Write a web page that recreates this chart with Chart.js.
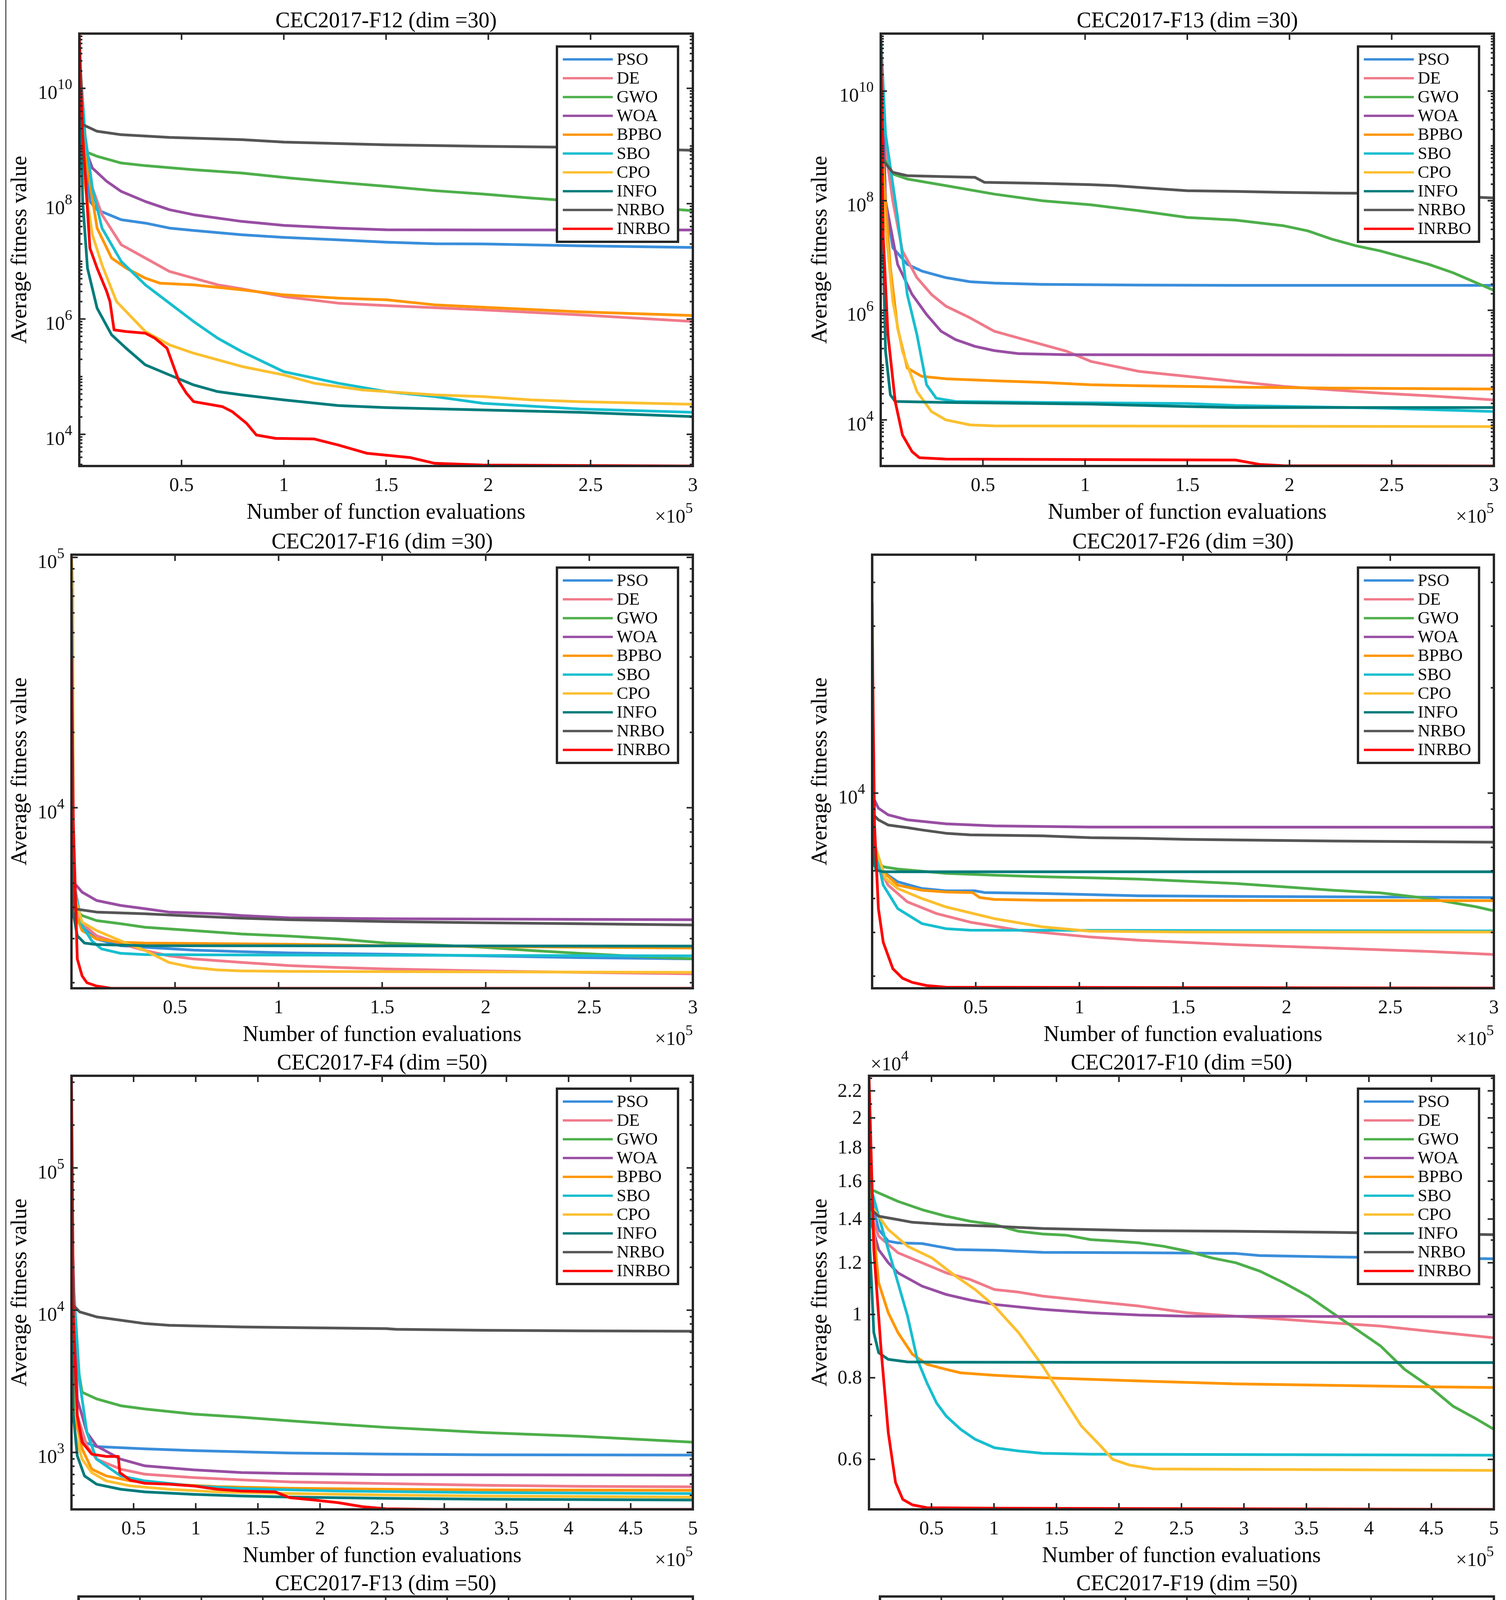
<!DOCTYPE html>
<html>
<head>
<meta charset="utf-8">
<title>CEC2017 convergence curves</title>
<script src="https://cdn.jsdelivr.net/npm/chart.js"></script>
<style>
  html, body { margin: 0; padding: 0; background: #fff; }
  body { width: 3856px; height: 5372px; position: relative; overflow: hidden; }
  #frame { position: absolute; left: 14px; top: 0; width: 2px; height: 5372px; background: #111; }
  canvas { position: absolute; }
</style>
</head>
<body>
<div id="frame"></div>
<script>
// ---- data: [function evaluations, average fitness] ----
const algorithms = ["PSO", "DE", "GWO", "WOA", "BPBO", "SBO", "CPO", "INFO", "NRBO", "INRBO"];

const titles = [
  "CEC2017-F12 (dim =30)", "CEC2017-F13 (dim =30)",
  "CEC2017-F16 (dim =30)", "CEC2017-F26 (dim =30)",
  "CEC2017-F4 (dim =50)", "CEC2017-F10 (dim =50)",
  "CEC2017-F13 (dim =50)", "CEC2017-F19 (dim =50)"
];

const xTicks30 = [0.5, 1, 1.5, 2, 2.5, 3];
const xTicks50 = [0.5, 1, 1.5, 2, 2.5, 3, 3.5, 4, 4.5, 5];

const yTicksWide = [1e4, 1e6, 1e8, 1e10];
const yTicksF16 = [1e4, 1e5];
const yTicksF26 = [1e4];
const yTicksF4 = [1e3, 1e4, 1e5];
const yTicksF10 = [6000, 8000, 10000, 12000, 14000, 16000, 18000, 20000, 22000];

const xMax = [3e5, 3e5, 3e5, 3e5, 5e5, 5e5, 5e5, 5e5];
const yLimits = [
  [2.82e3, 8.9e10], [1.44e3, 1.12e11],
  [1.9e3, 1.025e5], [2.77e3, 4.8e4],
  [398, 4.44e5], [5030, 23200],
  [1.585e3, 2.6e11], [2.08e3, 4.9e10]
];

const f12d30 = [
  [[0,4e10],[2000,2e9],[5200,1.09e8],[8700,7.85e7],[20500,5.26e7],[32300,4.6e7],[44100,3.77e7],[55900,3.43e7],[79500,2.89e7],[100000,2.6e7],[126700,2.36e7],[150200,2.15e7],[173800,2.02e7],[197400,2.0e7],[244600,1.86e7],[300000,1.74e7]],
  [[0,4e10],[2000,2.5e9],[6400,1.87e8],[11100,6.43e7],[20500,1.94e7],[32300,1.14e7],[44100,6.67e6],[55900,5.11e6],[67700,3.91e6],[79500,3.33e6],[100000,2.45e6],[126700,1.88e6],[150200,1.71e6],[197400,1.44e6],[244600,1.18e6],[300000,9.04e5]],
  [[0,4e10],[2800,8.07e8],[8700,6.62e8],[20500,5.07e8],[32300,4.56e8],[55900,3.88e8],[79500,3.4e8],[103000,2.78e8],[126700,2.34e8],[150200,2.0e8],[173800,1.68e8],[197400,1.47e8],[221000,1.25e8],[244600,1.09e8],[300000,7.54e7]],
  [[0,4e10],[2800,9.2e8],[6400,4.15e8],[13400,2.44e8],[20500,1.63e8],[32300,1.09e8],[44100,7.85e7],[55900,6.43e7],[79500,4.92e7],[100000,4.2e7],[126700,3.77e7],[150200,3.53e7],[197400,3.5e7],[300000,3.5e7]],
  [[0,4e10],[4000,4.15e8],[8700,3.77e7],[15800,1.14e7],[22900,7.62e6],[32300,5.11e6],[39400,4.18e6],[55900,3.91e6],[79500,3.2e6],[100000,2.62e6],[126700,2.3e6],[150200,2.15e6],[173800,1.76e6],[197400,1.6e6],[244600,1.33e6],[300000,1.15e6]],
  [[0,4e10],[2800,1.57e9],[6400,1.87e8],[11100,3.77e7],[20500,9.95e6],[32300,3.91e6],[44100,1.88e6],[55900,9.04e5],[67700,4.64e5],[79500,2.72e5],[100000,1.22e5],[126700,7.68e4],[150200,5.5e4],[173800,4.51e4],[197400,3.45e4],[244600,2.75e4],[300000,2.41e4]],
  [[0,4e10],[2800,2.13e8],[6400,2.89e7],[11100,8.7e6],[18200,2.01e6],[32300,6.06e5],[44100,3.56e5],[55900,2.55e5],[79500,1.5e5],[100000,1.07e5],[114900,7.68e4],[138400,5.88e4],[173800,4.82e4],[197400,4.51e4],[221000,3.95e4],[244600,3.69e4],[300000,3.32e4]],
  [[0,4e10],[1650,1.09e8],[4000,7.62e6],[8700,1.54e6],[15800,5.31e5],[22900,3.11e5],[32300,1.6e5],[44100,1.07e5],[55900,7.18e4],[67700,5.5e4],[79500,4.82e4],[100000,3.95e4],[126700,3.15e4],[150200,2.9e4],[197400,2.64e4],[244600,2.41e4],[300000,2.03e4]],
  [[0,4e10],[1650,2.35e9],[8700,1.8e9],[20500,1.57e9],[44100,1.41e9],[79500,1.29e9],[100000,1.17e9],[150200,1.05e9],[197400,9.87e8],[244600,9.48e8],[300000,8.42e8]],
  [[0,8.9e10],[1650,1.57e9],[5200,1.69e7],[8700,7.62e6],[13400,3.0e6],[15000,2.0e6],[17000,6.47e5],[22900,6.06e5],[32300,5.67e5],[37000,4.64e5],[42900,3.11e5],[48800,8.2e4],[52400,5.15e4],[55900,3.69e4],[70000,3.02e4],[74800,2.47e4],[81800,1.55e4],[86600,9.7e3],[96000,8.5e3],[114900,8.3e3],[126700,6.5e3],[140800,4.68e3],[162000,3.94e3],[173800,3.14e3],[197400,2.93e3],[300000,2.82e3]]
];

const f13d30 = [
  [[0,1.1e11],[2360,9.97e7],[5900,1.39e7],[12990,6.9e6],[20080,5.21e6],[31890,3.94e6],[43700,3.32e6],[55510,3.14e6],[79130,2.97e6],[126370,2.89e6],[173600,2.85e6],[300000,2.85e6]],
  [[0,1.1e11],[2360,8.22e8],[5900,9.97e7],[10630,1.21e7],[17720,3.94e6],[24800,1.95e6],[31890,1.19e6],[43700,7.28e5],[55510,4.15e5],[67320,3.13e5],[79130,2.37e5],[90940,1.79e5],[102750,1.17e5],[114560,9.48e4],[126370,7.68e4],[149990,6.22e4],[173600,5.04e4],[197230,4.08e4],[220850,3.54e4],[244470,3.08e4],[268090,2.75e4],[300000,2.32e4]],
  [[0,1.1e11],[1180,6.2e8],[5900,3.07e8],[12990,2.49e8],[31890,1.88e8],[55510,1.32e8],[79130,9.97e7],[102750,8.43e7],[126370,6.55e7],[149990,4.94e7],[173600,4.42e7],[197230,3.48e7],[209040,2.81e7],[220850,1.98e7],[232660,1.5e7],[244470,1.21e7],[268090,6.9e6],[279900,4.86e6],[300000,2.31e6]],
  [[0,1.1e11],[2360,9.97e7],[8270,6.9e6],[15350,1.95e6],[22440,8.38e5],[29530,4.15e5],[36610,2.92e5],[46060,2.2e5],[55510,1.84e5],[67320,1.62e5],[90940,1.55e5],[300000,1.51e5]],
  [[0,1.1e11],[1180,4.06e8],[4720,6.0e6],[8270,4.77e5],[12990,8.84e4],[20080,6.22e4],[31890,5.63e4],[55510,5.18e4],[79130,4.83e4],[102750,4.38e4],[126370,4.2e4],[173600,3.97e4],[220850,3.8e4],[300000,3.65e4]],
  [[0,1.1e11],[2360,1.66e9],[8270,4.94e7],[12990,1.95e6],[17720,3.6e5],[22440,4.38e4],[27160,2.49e4],[36610,2.17e4],[79130,2.08e4],[149990,1.99e4],[173600,1.83e4],[244470,1.64e4],[300000,1.42e4]],
  [[0,1.1e11],[1180,9.97e7],[5900,1.47e6],[10630,1.79e5],[17720,3.3e4],[24800,1.42e4],[31890,1e4],[43700,8.1e3],[55510,7.77e3],[300000,7.55e3]],
  [[0,1.1e11],[236,4.06e8],[2360,1.79e5],[4720,2.87e4],[7090,2.17e4],[31890,2.08e4],[102750,1.94e4],[149990,1.75e4],[173600,1.68e4],[300000,1.68e4]],
  [[0,1.12e11],[1180,5.39e8],[5900,3.29e8],[12990,2.86e8],[31890,2.74e8],[46060,2.67e8],[50780,2.16e8],[79130,2.07e8],[102750,1.96e8],[114560,1.88e8],[131090,1.7e8],[149990,1.52e8],[173600,1.48e8],[197230,1.42e8],[220850,1.38e8],[244470,1.36e8],[300000,1.12e8]],
  [[0,6.4e10],[1180,2.44e7],[3540,3.6e5],[7090,2.17e4],[10630,5.31e3],[15350,2.63e3],[18900,2.04e3],[31890,1.93e3],[173600,1.85e3],[185420,1.54e3],[197230,1.46e3],[300000,1.44e3]]
];

const f16d30 = [
  [[0,3e4],[932,3.95e3],[6290,3.28e3],[12120,2.99e3],[23780,2.81e3],[35430,2.77e3],[58740,2.7e3],[82050,2.66e3],[105360,2.63e3],[151980,2.6e3],[198600,2.56e3],[245220,2.52e3],[300000,2.49e3]],
  [[0,4e4],[932,3.95e3],[6290,3.38e3],[12120,3.08e3],[23780,2.86e3],[35430,2.69e3],[47090,2.56e3],[58740,2.49e3],[82050,2.41e3],[105360,2.34e3],[128670,2.3e3],[151980,2.27e3],[198600,2.23e3],[245220,2.2e3],[300000,2.17e3]],
  [[0,2.5e4],[932,3.95e3],[5130,3.71e3],[12120,3.54e3],[23780,3.44e3],[35430,3.33e3],[58740,3.23e3],[82050,3.13e3],[105360,3.07e3],[128670,2.99e3],[151980,2.88e3],[175290,2.83e3],[198600,2.77e3],[221910,2.69e3],[245220,2.62e3],[268530,2.56e3],[300000,2.49e3]],
  [[0,3e4],[932,5.05e3],[5130,4.6e3],[12120,4.26e3],[23780,4.07e3],[35430,3.95e3],[47090,3.83e3],[70400,3.77e3],[82050,3.71e3],[105360,3.63e3],[151980,3.6e3],[300000,3.57e3]],
  [[0,9e4],[932,3.95e3],[5130,3.23e3],[12120,2.99e3],[23780,2.9e3],[35430,2.88e3],[58740,2.87e3],[105360,2.85e3],[151980,2.81e3],[300000,2.75e3]],
  [[0,4e4],[466,5.37e3],[5130,3.38e3],[9790,2.94e3],[14450,2.73e3],[23780,2.62e3],[35430,2.59e3],[82050,2.58e3],[300000,2.56e3]],
  [[0,1.02e5],[600,8e4],[932,4.6e3],[5130,3.49e3],[12120,3.23e3],[23780,2.94e3],[35430,2.69e3],[47090,2.41e3],[58740,2.3e3],[70400,2.25e3],[82050,2.23e3],[105360,2.22e3],[300000,2.2e3]],
  [[0,2e4],[466,3.95e3],[2800,3.08e3],[6290,2.88e3],[12120,2.84e3],[35430,2.81e3],[300000,2.8e3]],
  [[0,7.5e4],[932,3.95e3],[12120,3.83e3],[35430,3.77e3],[58740,3.69e3],[82050,3.62e3],[105360,3.57e3],[128670,3.54e3],[151980,3.51e3],[198600,3.47e3],[245220,3.44e3],[300000,3.4e3]],
  [[0,4.03e4],[932,8.52e3],[2800,2.49e3],[5130,2.13e3],[7460,2.0e3],[12120,1.94e3],[19110,1.9e3],[300000,1.9e3]]
];

const f26d30 = [
  [[0,2e4],[700,6.23e3],[12340,5.58e3],[23990,5.34e3],[35630,5.26e3],[49610,5.26e3],[54270,5.2e3],[82210,5.17e3],[128790,5.09e3],[175370,5.07e3],[300000,5.03e3]],
  [[0,2e4],[700,6.51e3],[7690,5.46e3],[17000,4.89e3],[30980,4.53e3],[47280,4.28e3],[70570,4.06e3],[105500,3.88e3],[128790,3.8e3],[175370,3.69e3],[221950,3.61e3],[268530,3.53e3],[300000,3.46e3]],
  [[0,2e4],[700,6.51e3],[5360,6.16e3],[12340,6.07e3],[35630,5.9e3],[58920,5.83e3],[82210,5.77e3],[105500,5.73e3],[128790,5.68e3],[152080,5.6e3],[175370,5.52e3],[198660,5.4e3],[221950,5.28e3],[245240,5.19e3],[268530,5.0e3],[291820,4.73e3],[300000,4.61e3]],
  [[0,2e4],[700,9.67e3],[3030,9.06e3],[7690,8.67e3],[17000,8.39e3],[35630,8.17e3],[58920,8.06e3],[105500,8.0e3],[300000,7.99e3]],
  [[0,4.8e4],[700,7.27e3],[5360,5.96e3],[12340,5.46e3],[23990,5.28e3],[35630,5.22e3],[48440,5.2e3],[51940,5.03e3],[58920,4.97e3],[82210,4.94e3],[300000,4.93e3]],
  [[0,2e4],[700,7.27e3],[5360,5.46e3],[12340,4.68e3],[23990,4.24e3],[35630,4.1e3],[47280,4.06e3],[300000,4.04e3]],
  [[0,4.5e4],[700,7.27e3],[6520,5.7e3],[12340,5.34e3],[23990,5.0e3],[35630,4.73e3],[58920,4.38e3],[82210,4.15e3],[105500,4.03e3],[152080,4.01e3],[300000,4.01e3]],
  [[0,2e4],[700,6.51e3],[1860,6.03e3],[5360,5.96e3],[300000,5.96e3]],
  [[0,3.5e4],[700,8.67e3],[3030,8.39e3],[7690,8.11e3],[17000,7.97e3],[23990,7.85e3],[35630,7.68e3],[47280,7.6e3],[82210,7.55e3],[105500,7.46e3],[128790,7.43e3],[152080,7.38e3],[175370,7.35e3],[221950,7.3e3],[300000,7.24e3]],
  [[0,3.04e4],[1160,8.11e3],[3030,4.68e3],[5360,3.75e3],[10010,3.15e3],[14670,2.96e3],[19330,2.88e3],[26320,2.82e3],[35630,2.79e3],[300000,2.773e3]]
];

const f4d50 = [
  [[0,5e4],[2720,1.82e3],[10490,1.18e3],[20200,1.1e3],[59050,1.06e3],[97900,1.03e3],[175600,990],[253300,973],[331000,963],[500000,958]],
  [[0,5e4],[4660,1.82e3],[12430,1.11e3],[20200,897],[39630,763],[59050,703],[97900,666],[136750,641],[175600,621],[253300,604],[331000,588],[408700,578],[500000,573]],
  [[0,5e4],[2720,5.36e3],[8550,2.65e3],[20200,2.38e3],[39630,2.13e3],[59050,2.02e3],[97900,1.86e3],[136750,1.77e3],[175600,1.67e3],[214450,1.58e3],[253300,1.5e3],[292150,1.44e3],[331000,1.38e3],[408700,1.3e3],[500000,1.18e3]],
  [[0,5e4],[4660,2.38e3],[12430,1.38e3],[20200,1.11e3],[39630,897],[59050,805],[97900,755],[136750,722],[175600,711],[253300,699],[500000,692]],
  [[0,5e4],[2720,1.82e3],[8550,1.06e3],[16320,763],[27970,684],[47400,631],[78480,598],[117330,575],[175600,560],[253300,551],[331000,545],[500000,542]],
  [[0,5e4],[1550,1.58e4],[6600,3.12e3],[12430,1.38e3],[20200,897],[39630,684],[59050,631],[97900,582],[136750,557],[214450,536],[331000,522],[500000,514]],
  [[0,5e4],[2720,1.38e3],[8550,897],[16320,722],[27970,631],[47400,582],[78480,551],[117330,528],[175600,514],[253300,502],[331000,494],[500000,486]],
  [[0,5e4],[1550,1.82e3],[4660,947],[10490,684],[20200,598],[39630,551],[59050,528],[97900,508],[136750,494],[175600,486],[253300,476],[331000,469],[500000,463]],
  [[0,3e4],[1550,1.08e4],[6600,9.73e3],[20200,8.97e3],[39630,8.5e3],[59050,8.05e3],[78480,7.83e3],[97900,7.75e3],[136750,7.62e3],[175600,7.55e3],[253300,7.42e3],[261070,7.34e3],[331000,7.22e3],[408700,7.15e3],[500000,7.11e3]],
  [[0,4.44e5],[1550,9.22e3],[4660,1.82e3],[8550,1.18e3],[16320,973],[27970,937],[37680,937],[38850,722],[47400,638],[59050,607],[78480,598],[97900,582],[117330,551],[136750,536],[163950,528],[175600,481],[195030,463],[214450,444],[233880,416],[253300,402],[292150,398],[500000,398]]
];

const f10d50 = [
  [[0,1.65e4],[1930,1.5e4],[7720,1.349e4],[15440,1.295e4],[23170,1.287e4],[42470,1.284e4],[54050,1.272e4],[69500,1.257e4],[100390,1.254e4],[139000,1.245e4],[216220,1.243e4],[293440,1.24e4],[312740,1.231e4],[370660,1.225e4],[500000,1.217e4]],
  [[0,1.7e4],[1930,1.414e4],[7720,1.318e4],[23170,1.243e4],[42470,1.2e4],[61780,1.158e4],[81080,1.131e4],[100390,1.092e4],[119690,1.082e4],[139000,1.067e4],[177610,1.048e4],[216220,1.03e4],[254830,1.006e4],[293440,9.94e3],[332050,9.83e3],[370660,9.71e3],[409270,9.6e3],[447880,9.43e3],[500000,9.21e3]],
  [[0,1.6e4],[1930,1.553e4],[7720,1.535e4],[23170,1.49e4],[42470,1.447e4],[61780,1.414e4],[81080,1.389e4],[100390,1.373e4],[119690,1.341e4],[139000,1.328e4],[158300,1.322e4],[177610,1.302e4],[196910,1.295e4],[216220,1.287e4],[235520,1.272e4],[254830,1.25e4],[274130,1.221e4],[293440,1.2e4],[312740,1.165e4],[332050,1.118e4],[351350,1.067e4],[370660,1.006e4],[389960,9.49e3],[409270,8.95e3],[428570,8.24e3],[447880,7.77e3],[467180,7.24e3],[486490,6.91e3],[500000,6.67e3]],
  [[0,1.65e4],[1930,1.381e4],[7720,1.257e4],[15440,1.2e4],[23170,1.158e4],[42470,1.105e4],[61780,1.073e4],[81080,1.052e4],[100390,1.036e4],[139000,1.018e4],[177610,1.006e4],[216220,9.98e3],[254830,9.94e3],[500000,9.92e3]],
  [[0,1.7e4],[770,1.553e4],[7720,1.118e4],[15440,1.006e4],[23170,9.38e3],[34750,8.69e3],[46330,8.39e3],[61780,8.24e3],[73360,8.14e3],[100390,8.07e3],[139000,8.0e3],[216220,7.91e3],[293440,7.83e3],[370660,7.79e3],[447880,7.75e3],[500000,7.73e3]],
  [[0,1.6e4],[1930,1.553e4],[7720,1.414e4],[15440,1.257e4],[23170,1.118e4],[30890,9.94e3],[38610,8.535e3],[46330,7.86e3],[54050,7.32e3],[61780,6.99e3],[73360,6.67e3],[84940,6.44e3],[100390,6.25e3],[119690,6.18e3],[139000,6.13e3],[177610,6.11e3],[500000,6.09e3]],
  [[0,1.6e4],[1930,1.464e4],[15440,1.349e4],[30890,1.272e4],[50190,1.221e4],[69500,1.144e4],[84940,1.092e4],[100390,1.03e4],[119690,9.38e3],[139000,8.34e3],[154440,7.5e3],[169880,6.75e3],[185330,6.29e3],[194980,6.0e3],[208490,5.88e3],[227800,5.8e3],[500000,5.77e3]],
  [[0,1.65e4],[770,1.257e4],[3860,9.38e3],[7720,8.74e3],[15440,8.535e3],[30890,8.46e3],[61780,8.45e3],[500000,8.44e3]],
  [[0,1.5e4],[1930,1.447e4],[7720,1.414e4],[23170,1.397e4],[34750,1.384e4],[61780,1.373e4],[100390,1.365e4],[139000,1.354e4],[177610,1.349e4],[216220,1.344e4],[293440,1.341e4],[370660,1.336e4],[500000,1.325e4]],
  [[0,2.32e4],[3860,1.257e4],[9650,8.84e3],[15440,6.59e3],[21240,5.53e3],[27030,5.21e3],[34750,5.11e3],[46330,5.06e3],[100390,5.05e3],[500000,5.03e3]]
];

const f13d50 = [
  [[0,1e11],[3540,1.22e9],[6680,8.45e8],[14540,7.51e8],[34200,7.08e8],[53850,6.98e8],[500000,6.78e8]],
  [[0,1e11],[3540,2.42e8],[10610,5.57e7],[18480,1.48e7],[30270,4.58e6],[42060,2.2e6],[53850,1.31e6],[73510,7.3e5],[93160,5.05e5],[112820,3.5e5],[132470,2.61e5],[171780,1.56e5],[211090,1.08e5],[250400,7.48e4],[289710,5.58e4],[329020,4.48e4],[368330,3.59e4],[407650,3.01e4],[446960,2.49e4],[500000,2.06e4]],
  [[0,1e11],[3540,2.54e9],[14540,1.52e9],[34200,1.22e9],[53850,9.78e8],[73510,8.83e8],[93160,8.08e8],[112820,7.29e8],[132470,6.58e8],[171780,5.85e8],[211090,5.28e8],[250400,4.05e8],[289710,3.5e8],[329020,2.72e8],[368330,2.15e8],[407650,1.68e8],[446960,1.35e8],[500000,9.32e7]],
  [[0,1e11],[3540,5.05e8],[10610,8.65e7],[18480,2.31e7],[30270,7.13e6],[42060,3.42e6],[53850,1.9e6],[73510,9.1e5],[93160,5.86e5],[112820,4.37e5],[132470,3.5e5],[152130,2.81e5],[171780,2.5e5],[211090,2.29e5],[250400,2.25e5],[500000,2.22e5]],
  [[0,1e11],[1970,1.16e8],[6680,6.15e6],[14540,6.79e5],[22410,2.81e5],[34200,1.81e5],[45990,1.35e5],[53850,1.16e5],[73510,9.33e4],[93160,7.71e4],[112820,7.16e4],[132470,6.28e4],[171780,5.19e4],[211090,4.48e4],[250400,4.16e4],[329020,3.87e4],[407650,3.49e4],[500000,3.24e4]],
  [[0,1e11],[3540,1.05e9],[10610,1.56e8],[18480,2.67e7],[26340,2.95e6],[34200,4.37e5],[42060,7.48e4],[47960,2.31e4],[53850,1.28e4],[61720,9.16e3],[73510,8.26e3],[93160,8.02e3],[500000,7.68e3]],
  [[0,1e11],[1970,1.16e8],[6680,6.15e6],[12580,6.79e5],[18480,7.48e4],[24370,1.28e4],[30270,7.13e3],[38130,5.32e3],[53850,4.59e3],[93160,4.2e3],[211090,4.08e3],[500000,3.96e3]],
  [[0,1e11],[790,2.67e7],[4720,3.25e5],[8650,3.59e4],[14540,1.38e4],[22410,9.57e3],[38130,8.26e3],[93160,8.02e3],[500000,7.8e3]],
  [[0,2.6e11],[2750,5.3e9],[14540,4.44e9],[34200,3.84e9],[40100,3.41e9],[53850,3.17e9],[65650,2.95e9],[93160,2.82e9],[132470,2.66e9],[171780,2.54e9],[250400,2.43e9],[329020,2.29e9],[348680,2.19e9],[407650,2.13e9],[500000,1.9e9]],
  [[0,1.8e11],[1970,5.05e8],[6680,1.28e7],[12580,6.79e5],[18480,7.48e4],[24370,1.72e4],[30270,6.16e3],[36170,4.26e3],[42060,3.96e3],[45990,2.74e3],[53850,2.44e3],[73510,2.27e3],[93160,2.05e3],[132470,1.99e3],[211090,1.9e3],[329020,1.9e3],[439090,1.85e3],[446960,1.71e3],[466610,1.64e3],[500000,1.59e3]]
];

const f19d50 = [
  [[0,3e10],[3540,4.8e7],[8650,1.67e7],[14540,8.65e6],[26340,5.1e6],[34200,3.67e6],[45990,2.64e6],[53850,1.78e6],[65650,1.37e6],[77440,1.2e6],[93160,9.19e5],[112820,7.54e5],[132470,6.61e5],[171780,5.65e5],[211090,5.08e5],[250400,4.57e5],[289710,4.28e5],[368330,4.06e5],[500000,3.9e5]],
  [[0,3e10],[3540,1.28e7],[10610,3.43e6],[18480,9.19e5],[26340,3.65e5],[34200,2.16e5],[45990,1.45e5],[53850,1.12e5],[73510,6.59e4],[93160,4.44e4],[112820,3.41e4],[132470,2.99e4],[152130,2.55e4],[171780,2.01e4],[191440,1.88e4],[211090,1.65e4],[230750,1.27e4],[250400,1.19e4],[289710,1.11e4],[329020,1e4],[368330,9.12e3],[407650,8.54e3],[446960,7.48e3],[500000,7.0e3]],
  [[0,3e10],[1970,3.03e8],[6680,1.79e8],[14540,1.21e8],[22410,9.89e7],[53850,7.91e7],[73510,7.12e7],[93160,6.24e7],[112820,5.12e7],[132470,4.49e7],[152130,4.04e7],[171780,3.45e7],[191440,3.23e7],[211090,2.83e7],[230750,2.32e7],[250400,2.04e7],[289710,1.6e7],[329020,1.28e7],[368330,9.86e6],[407650,6.64e6],[446960,4.19e6],[500000,1.82e6]],
  [[0,3e10],[3540,4.8e7],[6680,1.28e7],[14540,8.09e6],[34200,6.64e6],[53850,5.82e6],[73510,5.1e6],[93160,4.59e6],[112820,4.19e6],[132470,3.67e6],[152130,3.34e6],[171780,2.93e6],[191440,2.71e6],[211090,2.64e6],[250400,2.57e6],[500000,2.57e6]],
  [[0,3e10],[3540,3.43e6],[10610,4.75e5],[18480,2.81e5],[26340,1.89e5],[34200,1.27e5],[45990,9.16e4],[53850,7.03e4],[73510,5.41e4],[93160,4.55e4],[132470,4.26e4],[152130,3.64e4],[171780,3.41e4],[222890,3.27e4],[250400,3.1e4],[368330,2.99e4],[500000,2.79e4]],
  [[0,3e10],[1970,3.46e8],[6680,1.28e7],[12580,4.75e5],[18480,5.06e4],[22410,2.3e4],[28300,1.76e4],[34200,1.65e4],[53850,1.61e4],[171780,1.59e4],[289710,1.5e4],[407650,1.45e4],[500000,1.32e4]],
  [[0,4.9e10],[1970,4.8e7],[8650,9.19e5],[14540,6.59e4],[20440,2.62e4],[26340,2.01e4],[53850,1.88e4],[132470,1.76e4],[250400,1.59e4],[368330,1.5e4],[500000,1.45e4]],
  [[0,3e10],[790,1.28e7],[3540,6.59e4],[7470,2.36e4],[53850,2.36e4],[93160,2.23e4],[112820,2.15e4],[132470,1.88e4],[152130,1.76e4],[250400,1.76e4],[270060,1.65e4],[500000,1.65e4]],
  [[0,4e10],[1970,3.46e8],[6680,2.66e8],[14540,2.33e8],[34200,2.04e8],[53850,1.68e8],[73510,1.53e8],[93160,1.41e8],[112820,1.34e8],[132470,1.21e8],[171780,1.06e8],[191440,9.51e7],[211090,9.27e7],[230750,8.45e7],[270060,8.12e7],[289710,7.41e7],[329020,7.12e7],[368330,6.93e7],[500000,6.49e7]],
  [[0,2.86e10],[2750,1.79e8],[6680,9.19e5],[10610,1.76e4],[13760,4.72e3],[16510,2.44e3],[22410,2.14e3],[500000,2.08e3]]
];

const seriesByPanel = [f12d30, f13d30, f16d30, f26d30, f4d50, f10d50, f13d50, f19d50];
const xTicksByPanel = [xTicks30, xTicks30, xTicks30, xTicks30, xTicks50, xTicks50, xTicks50, xTicks50];
const yTicksByPanel = [yTicksWide, yTicksWide, yTicksF16, yTicksF26, yTicksF4, yTicksF10, yTicksWide, yTicksWide];
// F10 is labelled as mantissa x 10^4 instead of powers of ten
const yScaleExp = [0, 0, 0, 0, 0, 4, 0, 0];

// ---- styling / layout ----
const colors = ["#3A8EDB", "#F07A8A", "#4DAF4A", "#984EA3", "#FF9500",
                "#17BECF", "#FBBF2F", "#007B7B", "#555555", "#FF0000"];
const serif = '"Liberation Serif", "Times New Roman", serif';
const ink = "#262626";
const CANVAS_W = 1928, CANVAS_H = 1400, ROW_STEP = 1334;
// plot boxes in page pixels: left, top, right, bottom
const boxes = [
  [203, 86, 1774, 1193], [2255, 86, 3825, 1193],
  [183, 1420, 1774, 2530], [2233, 1420, 3825, 2530],
  [183, 2754, 1774, 3864], [2225, 2754, 3825, 3864],
  [201, 4087, 1774, 5200], [2253, 4087, 3825, 5200]
];
const yTitleX = [52, 173, 52, 173, 52, 173, 52, 173];

function powLabel(ctx, mant, exp, x, y, anchor) {
  ctx.font = `50px ${serif}`;
  const wm = ctx.measureText(mant).width;
  ctx.font = `38px ${serif}`;
  const we = ctx.measureText(exp).width;
  const left = anchor === "right" ? x - wm - we : x;
  ctx.textAlign = "left";
  ctx.textBaseline = "alphabetic";
  ctx.font = `50px ${serif}`;
  ctx.fillText(mant, left, y);
  ctx.font = `38px ${serif}`;
  ctx.fillText(exp, left + wm, y - 25);
}

const axesPlugin = (p) => ({
  id: "matlabAxes",
  afterDatasetsDraw(chart) {
    const ctx = chart.ctx;
    const { left: L, top: T, right: R, bottom: B } = chart.chartArea;
    const xs = chart.scales.x, ys = chart.scales.y;
    const [yMin, yMax] = p.yLimits;
    const seg = (x1, y1, x2, y2) => {
      ctx.beginPath(); ctx.moveTo(x1, y1); ctx.lineTo(x2, y2); ctx.stroke();
    };
    ctx.save();
    ctx.strokeStyle = ink;
    ctx.lineWidth = 4;
    ctx.lineCap = "butt";

    // x ticks, inside, bottom and top
    p.xTicks.forEach((v) => {
      const px = xs.getPixelForValue(v * 1e5);
      seg(px, B, px, B - 16);
      seg(px, T, px, T + 16);
    });

    // y ticks (major + minor)
    const yVals = [];
    if (p.scaleExp) {
      for (let v = Math.ceil(yMin / 1000) * 1000; v <= yMax; v += 1000) yVals.push(v);
    } else {
      const n0 = Math.floor(Math.log10(yMin)), n1 = Math.ceil(Math.log10(yMax));
      for (let n = n0; n <= n1; n++) {
        for (let k = 1; k <= 9; k++) {
          const v = k * Math.pow(10, n);
          if (v >= yMin && v <= yMax) yVals.push(v);
        }
      }
    }
    yVals.forEach((v) => {
      const major = p.yTicks.some((t) => Math.abs(t - v) / t < 1e-6);
      const len = major ? 16 : 8;
      const py = ys.getPixelForValue(v);
      seg(L, py, L + len, py);
      seg(R, py, R - len, py);
    });

    // box
    ctx.lineWidth = 6;
    ctx.strokeRect(L, T, R - L, B - T);

    // tick labels
    ctx.fillStyle = "#111";
    ctx.font = `50px ${serif}`;
    ctx.textAlign = "center";
    ctx.textBaseline = "alphabetic";
    p.xTicks.forEach((v) => {
      ctx.fillText(String(v), xs.getPixelForValue(v * 1e5), B + 64);
    });
    p.yTicks.forEach((v) => {
      const py = ys.getPixelForValue(v);
      if (p.scaleExp) {
        ctx.font = `50px ${serif}`;
        ctx.textAlign = "right";
        ctx.textBaseline = "middle";
        ctx.fillText(String(+(v / Math.pow(10, p.scaleExp)).toFixed(1)), L - 18, py + 2);
      } else {
        powLabel(ctx, "10", String(Math.round(Math.log10(v))), L - 18, py + 27, "right");
      }
    });
    powLabel(ctx, "\u00d710", "5", R, B + 145, "right");
    if (p.scaleExp) powLabel(ctx, "\u00d710", String(p.scaleExp), L + 4, T - 14, "left");

    // titles
    ctx.fillStyle = "#000";
    ctx.font = `56px ${serif}`;
    ctx.textAlign = "center";
    ctx.textBaseline = "alphabetic";
    ctx.fillText(p.title, (L + R) / 2, T - 16);
    ctx.fillText("Number of function evaluations", (L + R) / 2, B + 135);
    ctx.save();
    ctx.translate(p.yTitleX, (T + B) / 2);
    ctx.rotate(-Math.PI / 2);
    ctx.textBaseline = "middle";
    ctx.fillText("Average fitness value", 0, 0);
    ctx.restore();

    // legend box
    const lw = 310, lh = 500;
    const lx = R - 38 - lw, ly = T + 33;
    ctx.fillStyle = "#fff";
    ctx.fillRect(lx, ly, lw, lh);
    ctx.lineWidth = 6;
    ctx.strokeStyle = ink;
    ctx.strokeRect(lx, ly, lw, lh);
    chart.data.datasets.forEach((ds, i) => {
      const cy = ly + 33 + i * 48.2;
      ctx.strokeStyle = ds.borderColor;
      ctx.lineWidth = 6;
      seg(lx + 15, cy, lx + 143, cy);
      ctx.fillStyle = "#000";
      ctx.font = `44px ${serif}`;
      ctx.textAlign = "left";
      ctx.textBaseline = "middle";
      ctx.fillText(ds.label, lx + 153, cy + 2);
    });
    ctx.restore();
  }
});

seriesByPanel.forEach((series, k) => {
  const col = k % 2, row = Math.floor(k / 2);
  const cLeft = col * CANVAS_W, cTop = row * ROW_STEP;
  const [L, T, R, B] = boxes[k];

  const canvas = document.createElement("canvas");
  canvas.width = CANVAS_W;
  canvas.height = CANVAS_H;
  canvas.style.left = cLeft + "px";
  canvas.style.top = cTop + "px";
  canvas.style.width = CANVAS_W + "px";
  canvas.style.height = CANVAS_H + "px";
  document.body.appendChild(canvas);

  const panel = {
    title: titles[k],
    xTicks: xTicksByPanel[k],
    yTicks: yTicksByPanel[k],
    yLimits: yLimits[k],
    scaleExp: yScaleExp[k],
    yTitleX: yTitleX[k]
  };

  new Chart(canvas, {
    type: "line",
    data: {
      datasets: series.map((pts, i) => ({
        label: algorithms[i],
        data: pts,
        borderColor: colors[i],
        backgroundColor: colors[i],
        borderWidth: 7,
        borderJoinStyle: "round",
        pointRadius: 0,
        tension: 0,
        fill: false,
        order: algorithms.length - i
      }))
    },
    options: {
      responsive: false,
      animation: false,
      devicePixelRatio: 1,
      events: [],
      layout: {
        padding: { left: L - cLeft, right: cLeft + CANVAS_W - R, top: T - cTop, bottom: cTop + CANVAS_H - B }
      },
      scales: {
        x: { type: "linear", min: 0, max: xMax[k], bounds: "data", display: false },
        y: { type: "logarithmic", min: yLimits[k][0], max: yLimits[k][1], bounds: "data", display: false }
      },
      plugins: { legend: { display: false }, tooltip: { enabled: false }, title: { display: false } }
    },
    plugins: [axesPlugin(panel)]
  });
});
</script>
</body>
</html>
